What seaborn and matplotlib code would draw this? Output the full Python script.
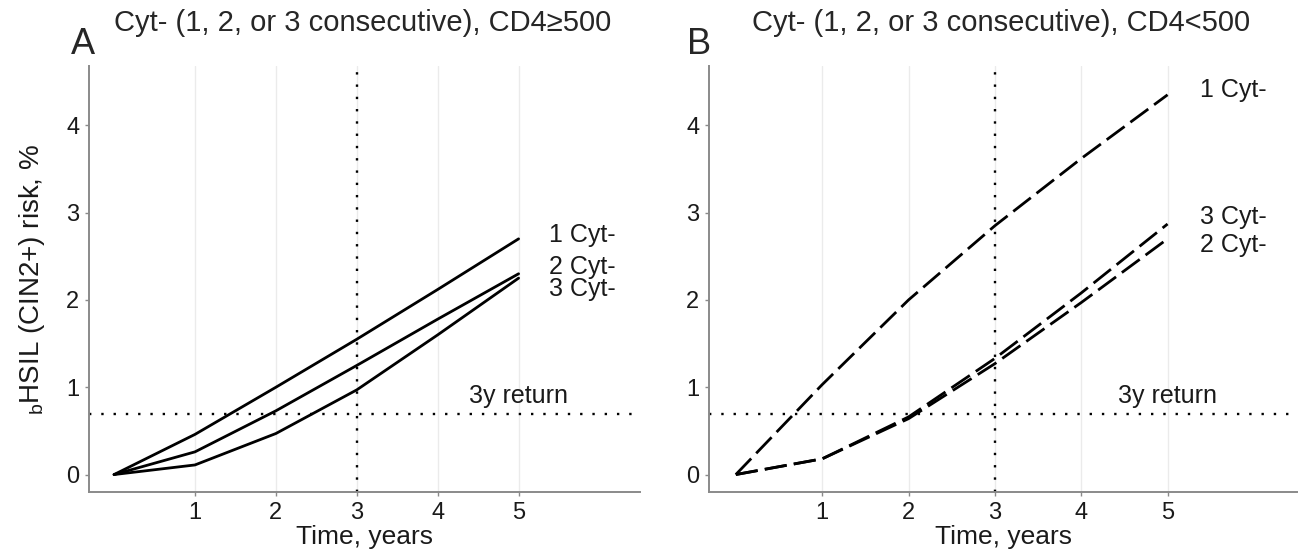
import matplotlib
matplotlib.use("Agg")
import matplotlib.pyplot as plt
import seaborn as sns
import pandas as pd

# data
years = [0, 1, 2, 3, 4, 5]
groups = ["1 Cyt-", "2 Cyt-", "3 Cyt-"]

cd4_high_1 = [0, 0.46, 1.00, 1.55, 2.12, 2.70]
cd4_high_2 = [0, 0.26, 0.73, 1.25, 1.78, 2.30]
cd4_high_3 = [0, 0.11, 0.47, 0.97, 1.60, 2.25]

cd4_low_1 = [0, 1.03, 2.00, 2.85, 3.62, 4.35]
cd4_low_2 = [0, 0.18, 0.64, 1.27, 1.97, 2.70]
cd4_low_3 = [0, 0.18, 0.66, 1.33, 2.08, 2.87]

return_threshold = 0.69
return_year = 3

titles = ["Cyt- (1, 2, or 3 consecutive), CD4\u2265500",
          "Cyt- (1, 2, or 3 consecutive), CD4<500"]
panel_letters = ["A", "B"]

rows = []
for panel, series in [("A", [cd4_high_1, cd4_high_2, cd4_high_3]),
                      ("B", [cd4_low_1, cd4_low_2, cd4_low_3])]:
    for g, vals in zip(groups, series):
        for t, v in zip(years, vals):
            rows.append({"panel": panel, "group": g, "time": t, "risk": v})
df = pd.DataFrame(rows)

sns.set_theme(style="white")
plt.rcParams["font.family"] = ["Liberation Sans", "DejaVu Sans"]
plt.rcParams["mathtext.default"] = "regular"

fig = plt.figure(figsize=(13.01, 5.55), dpi=100)
axA = fig.add_axes([0.0684, 0.1135, 0.4235, 0.7676])
axB = fig.add_axes([0.545, 0.1135, 0.452, 0.7676])

# label nudges so the end labels don't collide
label_offsets = {"A": {"1 Cyt-": 0.04, "2 Cyt-": 0.08, "3 Cyt-": -0.12},
                 "B": {"1 Cyt-": 0.06, "2 Cyt-": -0.07, "3 Cyt-": 0.08}}
styles = {"A": "-", "B": (0, (8, 2.6))}

for ax, panel in [(axA, "A"), (axB, "B")]:
    sub = df[df.panel == panel]
    for g in groups:
        d = sub[sub.group == g]
        sns.lineplot(data=d, x="time", y="risk", ax=ax, color="black",
                     linewidth=2.0, linestyle=styles[panel])
        ax.text(5.38, d.risk.iloc[-1] + label_offsets[panel][g], g,
                fontsize=18, va="center", ha="left", color="#1a1a1a")
    ax.axhline(return_threshold, color="black", lw=1.7, ls=(0, (1, 4.2)))
    ax.axvline(return_year, color="black", lw=1.7, ls=(0, (1, 4.2)))
    ax.text(5.0, return_threshold + 0.07, "3y return", fontsize=18,
            ha="center", va="bottom", color="#1a1a1a")

    ax.set_xlim(-0.31, 6.5)
    ax.set_ylim(-0.2, 4.68)
    ax.set_xticks([1, 2, 3, 4, 5])
    ax.set_yticks([0, 1, 2, 3, 4])
    ax.grid(axis="x", color="#ebebeb", lw=1.0)
    ax.grid(axis="y", visible=False)
    ax.set_axisbelow(True)
    for s in ["top", "right"]:
        ax.spines[s].set_visible(False)
    for s in ["left", "bottom"]:
        ax.spines[s].set_color("#8a8a8a")
        ax.spines[s].set_linewidth(1.4)
    ax.tick_params(axis="both", which="both", length=3, width=1,
                   color="#8a8a8a", labelsize=17, labelcolor="#1a1a1a",
                   bottom=True, left=True, pad=4)
    ax.set_xlabel("Time, years", fontsize=19, color="#1a1a1a", labelpad=1)
    ax.set_ylabel("")

axA.set_ylabel(r"$_{b}$HSIL (CIN2+) risk, %", fontsize=20, color="#1a1a1a", labelpad=14)

fig.text(0.0545, 0.92, panel_letters[0], fontsize=26, va="center", ha="left")
fig.text(0.088, 0.958, titles[0], fontsize=21, va="center", ha="left")
fig.text(0.528, 0.92, panel_letters[1], fontsize=26, va="center", ha="left")
fig.text(0.578, 0.958, titles[1], fontsize=21, va="center", ha="left")

fig.savefig("out.png", dpi=100)
